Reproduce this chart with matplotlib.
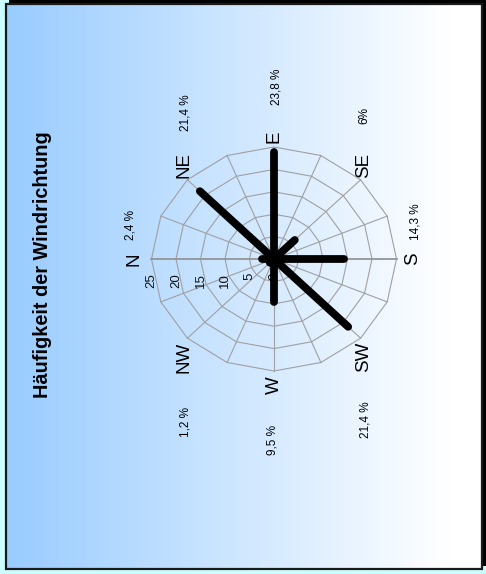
import numpy as np
import matplotlib
matplotlib.use("Agg")
import matplotlib.pyplot as plt
from matplotlib.patches import Rectangle

plt.rcParams['font.family'] = ['Liberation Sans', 'DejaVu Sans']

# ---- data ----
directions = ['N', 'NE', 'E', 'SE', 'S', 'SW', 'W', 'NW']
compass_deg = [0, 45, 90, 135, 180, 225, 270, 315]
values = [2.4, 21.4, 23.8, 6.0, 14.3, 21.4, 9.5, 1.2]
pct_labels = ['2,4 %', '21,4 %', '23,8 %', '6%', '14,3 %', '21,4 %', '9,5 %', '1,2 %']
ring_ticks = [0, 5, 10, 15, 20, 25]
title = 'Häufigkeit der Windrichtung'

W, H = 486, 574
fig = plt.figure(figsize=(W / 100, H / 100), dpi=100)
fig.patch.set_facecolor('#ccffff')

# ---- background panel (pixel coordinates) ----
bg = fig.add_axes([0, 0, 1, 1])
bg.set_xlim(0, W)
bg.set_ylim(H, 0)
bg.axis('off')
# shadow
bg.add_patch(Rectangle((9, 0), W - 9, 566, facecolor='black', edgecolor='none', zorder=0))
# gradient panel
px0, py0, px1, py1 = 6, 4, 482, 569
grad = np.linspace(0, 1, 256)
c0 = np.array([153, 204, 255]) / 255.0
c1 = np.array([255, 255, 255]) / 255.0
t = np.clip(grad * 1.08, 0, 1)[None, :, None]
img = c0[None, None, :] * (1 - t) + c1[None, None, :] * t
bg.imshow(img, extent=(px0, px1, py1, py0), aspect='auto', zorder=1, interpolation='bilinear')
bg.add_patch(Rectangle((px0, py0), px1 - px0, py1 - py0, facecolor='none',
                       edgecolor='#1a1a1a', linewidth=1.6, zorder=2))
bg.set_xlim(0, W)
bg.set_ylim(H, 0)

# ---- rose axes (rotated: N left, E top) ----
cx, cy = 274, 259
sx, sy = 122.5 / 25, 112 / 25   # px per unit horizontally / vertically
R = 27
wpx, hpx = 2 * R * sx, 2 * R * sy
ax = fig.add_axes([(cx - wpx / 2) / W, (H - cy - hpx / 2) / H, wpx / W, hpx / H])
ax.set_xlim(-R, R)
ax.set_ylim(-R, R)
ax.set_aspect('auto')
ax.axis('off')
ax.patch.set_alpha(0)

def ang(compass):
    return np.deg2rad(180 - np.asarray(compass, dtype=float))

grid_dirs = np.arange(0, 360, 22.5)
rmax = ring_ticks[-1]
# rings
for r in ring_ticks[1:] + [1.8]:
    a = ang(np.append(grid_dirs, grid_dirs[0]))
    ax.plot(r * np.cos(a), r * np.sin(a), color='#a0a0a0', lw=0.8, zorder=1)
# spokes
for d in grid_dirs:
    a = ang(d)
    lw = 1.3 if d in (0, 180) else 0.8
    col = '#959595' if d in (0, 180) else '#a0a0a0'
    ax.plot([0, rmax * np.cos(a)], [0, rmax * np.sin(a)], color=col, lw=lw, zorder=1)

# radial tick labels along N axis
for v in ring_ticks:
    a = ang(0)
    ax.text(v * np.cos(a), -3.1, str(v), rotation=90, ha='center', va='top',
            fontsize=9.5, color='#111111', zorder=2)

# bars
for d, v in zip(compass_deg, values):
    a = ang(d)
    ax.plot([0, v * np.cos(a)], [0, v * np.sin(a)], color='black', lw=5.6,
            solid_capstyle='round', zorder=3)

# ---- texts (pixel positions) ----
dir_pos = {'N': (134, 259), 'NE': (184, 165), 'E': (274, 137), 'SE': (364, 165),
           'S': (413, 259), 'SW': (364, 357), 'W': (274, 385), 'NW': (184, 357)}
for d in directions:
    x, y = dir_pos[d]
    bg.text(x, y, d, rotation=90, ha='center', va='center', fontsize=13.5, zorder=5)

pct_pos = [(130, 225), (185, 113), (276, 87), (364, 116),
           (415, 222), (365, 420), (272, 440), (185, 422)]
for lab, (x, y) in zip(pct_labels, pct_pos):
    bg.text(x, y, lab, rotation=90, ha='center', va='center', fontsize=8.5, zorder=5)

bg.text(43, 265, title, rotation=90, ha='center', va='center', fontsize=14.3,
        fontweight='bold', zorder=5)

fig.savefig('out.png', dpi=100, facecolor=fig.get_facecolor())
